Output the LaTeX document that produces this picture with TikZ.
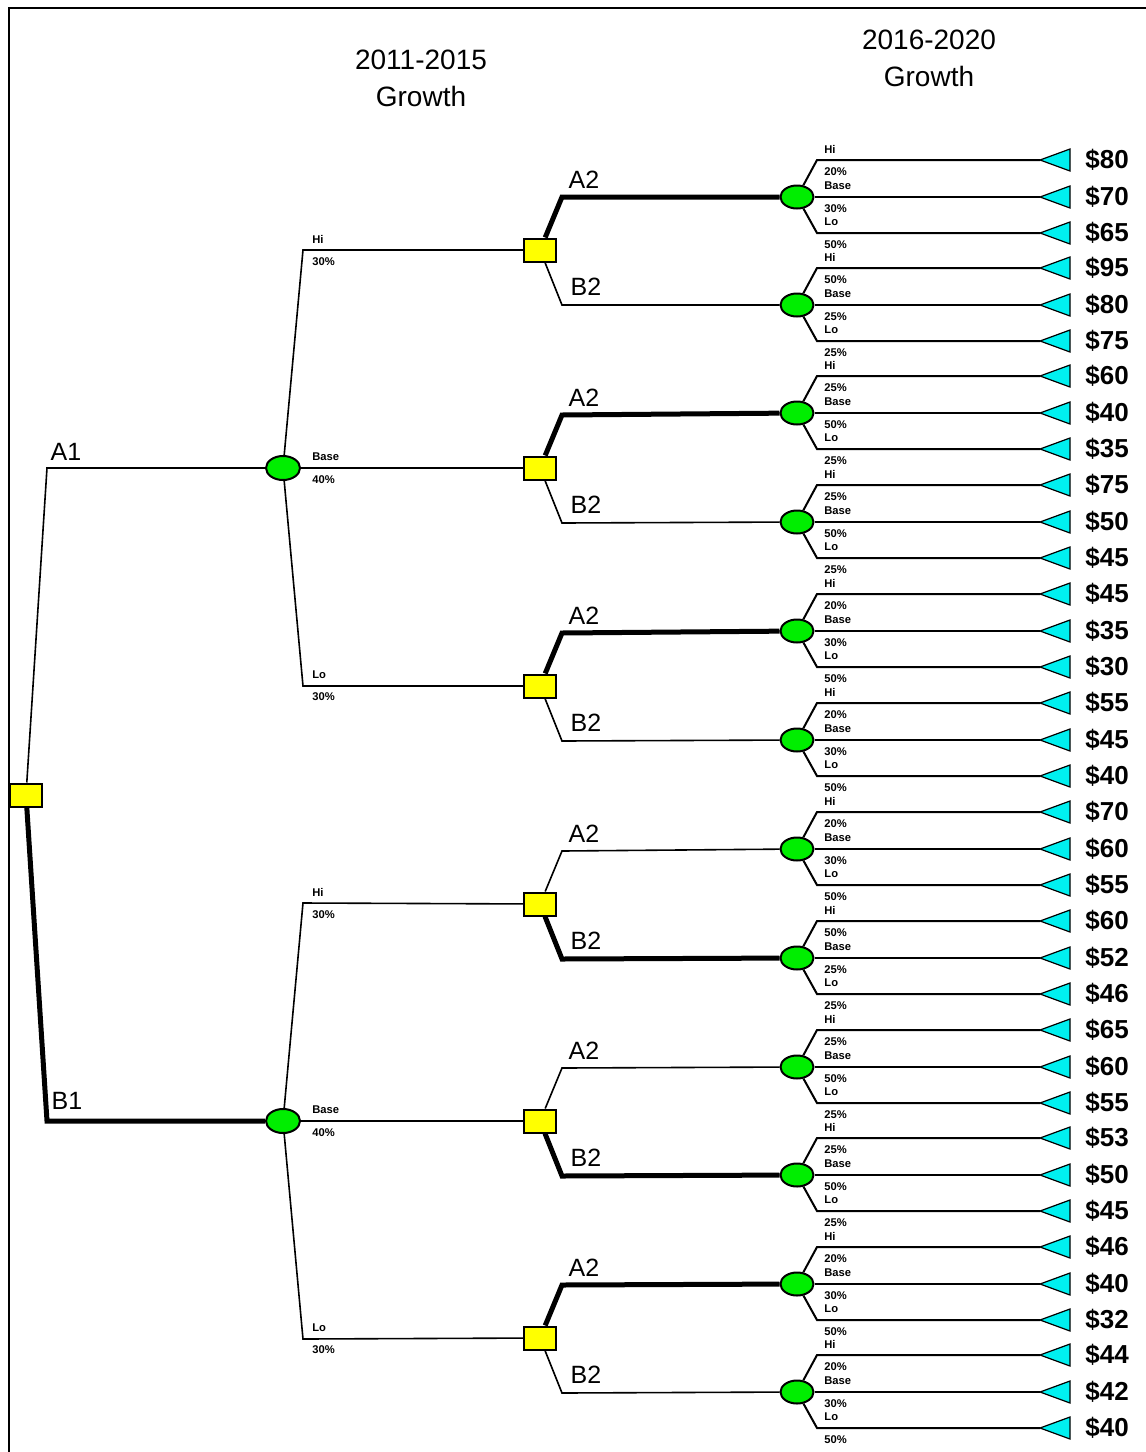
\documentclass[tikz,border=0pt]{standalone}
\usepackage{fontspec}
\setmainfont{Liberation Sans}
\usetikzlibrary{shapes.geometric}
\definecolor{decyellow}{RGB}{255,255,0}
\definecolor{chgreen}{RGB}{0,238,0}
\definecolor{termcyan}{RGB}{0,240,240}
\tikzset{
 dec/.style={draw, line width=1pt, fill=decyellow, minimum width=16pt, minimum height=11.5pt, inner sep=0pt},
 chance/.style={ellipse, draw, line width=1pt, fill=chgreen, minimum width=16.5pt, minimum height=11.5pt, inner sep=0pt},
 term/.style={draw, line width=0.6pt, fill=termcyan},
 thinbr/.style={line width=0.8pt},
 termbr/.style={line width=1pt},
 thickbr/.style={line width=2.5pt},
 title/.style={font=\fontsize{14}{18.5}\selectfont, align=center, inner sep=0pt},
 albl/.style={font=\fontsize{12.5}{14}\selectfont, inner sep=0pt},
 val/.style={font=\fontsize{13}{14}\selectfont\bfseries, anchor=west, inner sep=0pt},
 tiny/.style={font=\fontsize{5.6}{6}\selectfont\bfseries, anchor=west, inner sep=0pt},
}
\begin{document}
\begin{tikzpicture}[x=0.5pt,y=-0.5pt]
\useasboundingbox (0,0) rectangle (1146,1452);
% frame
\draw[line width=1.25pt] (9,1452) -- (9,8) -- (1146,8);
% titles
\node[title] (t1) at (421,78) {2011-2015\\Growth};
\node[title] (t2) at (929,58) {2016-2020\\Growth};
% stage 2 chance nodes and terminals
\foreach \i/\y/\pa/\pb/\pc/\va/\vb/\vc in {
 1/197/20/30/50/80/70/65, 2/305/50/25/25/95/80/75,
 3/413/25/50/25/60/40/35, 4/522/25/50/25/75/50/45,
 5/631/20/30/50/45/35/30, 6/740/20/30/50/55/45/40,
 7/849/20/30/50/70/60/55, 8/958/50/25/25/60/52/46,
 9/1067/25/50/25/65/60/55, 10/1175/25/50/25/53/50/45,
 11/1284/20/30/50/46/40/32, 12/1392/20/30/50/44/42/40}{
  \node[chance] (n\i) at (797,\y) {};
  \foreach \k/\dy/\p/\nm/\v in {a/-37/\pa/Hi/\va, b/0/\pb/Base/\vb, c/36/\pc/Lo/\vc}{
    \coordinate (t\i\k) at (1040,\y+\dy);
    \draw[termbr] (n\i) -- (817,\y+\dy) -- (t\i\k);
    \filldraw[term] (t\i\k) -- ++(30,-11) -- ++(0,22) -- cycle;
    \node[val] (v\i\k) at (1085,\y+\dy) {\$\v};
    \node[tiny] (l\i\k) at (824,\y+\dy-11) {\nm};
    \node[tiny] (q\i\k) at (824,\y+\dy+12) {\p\%};
  }
}
% stage 2 decision nodes
\foreach \i/\y/\na/\nb/\sa/\sb in {
 1/250/1/2/thickbr/thinbr, 2/468/3/4/thickbr/thinbr, 3/686/5/6/thickbr/thinbr,
 4/904/7/8/thinbr/thickbr, 5/1121/9/10/thinbr/thickbr, 6/1338/11/12/thickbr/thinbr}{
  \node[dec] (d\i) at (540,\y) {};
  \draw[\sa] (d\i) -- (562,\y-53) -- (n\na);
  \draw[\sb] (d\i) -- (562,\y+55) -- (n\nb);
  \node[albl] (la\i) at (584,\y-70) {A2};
  \node[albl] (lb\i) at (586,\y+37) {B2};
}
% stage 1 chance nodes
\foreach \c/\y/\da/\db/\dc in {A/468/1/2/3, B/1121/4/5/6}{
  \node[chance, minimum width=17pt, minimum height=12pt] (c\c) at (283,\y) {};
  \draw[thinbr] (c\c) -- (303,\y-218) -- (d\da);
  \draw[thinbr] (c\c) -- (d\db);
  \draw[thinbr] (c\c) -- (303,\y+218) -- (d\dc);
  \node[tiny] (h\c) at (312,\y-229) {Hi};
  \node[tiny] (hp\c) at (312,\y-206) {30\%};
  \node[tiny] (b\c) at (312,\y-11) {Base};
  \node[tiny] (bp\c) at (312,\y+12) {40\%};
  \node[tiny] (o\c) at (312,\y+207) {Lo};
  \node[tiny] (op\c) at (312,\y+229) {30\%};
}
% root
\node[dec] (root) at (26,795) {};
\draw[thinbr] (root) -- (47,468) -- (cA);
\draw[thickbr] (root) -- (47,1121) -- (cB);
\node[albl] (lA1) at (66,452) {A1};
\node[albl] (lB1) at (67,1101) {B1};
\end{tikzpicture}
\end{document}
